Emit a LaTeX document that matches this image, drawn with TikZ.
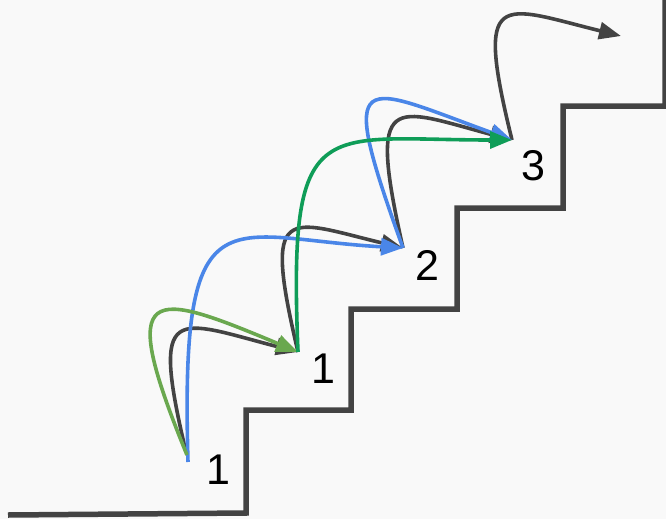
\documentclass[tikz,border=0pt]{standalone}
\usepackage{fontspec}
\setmainfont{Liberation Sans}
\usetikzlibrary{arrows.meta}
\definecolor{stairgray}{HTML}{434343}
\definecolor{hopblue}{HTML}{4A86E8}
\definecolor{hoplight}{HTML}{6AA84F}
\definecolor{hopdark}{HTML}{0F9D58}
\definecolor{paper}{HTML}{F9F9F9}
\tikzset{
  stairline/.style={draw=stairgray, line width=5.5pt, line join=miter},
  hop/.style={line width=3.6pt, -{Triangle[length=22pt,width=17pt]}},
  steplabel/.style={font=\fontsize{43}{43}\selectfont, inner sep=0pt, anchor=base, text=black},
}
\begin{document}
\begin{tikzpicture}[x=1pt, y=-1pt]
  % canvas
  \fill[paper] (0,0) rectangle (666,519);
  \useasboundingbox (0,0) rectangle (666,519);

  % staircase outline
  \draw[stairline] (8,515) -- (246,513) -- (246,410) -- (351,410) -- (351,309)
    -- (457,309) -- (457,208) -- (563,208) -- (563,106) -- (665,106) -- (665,0);

  % landing points of the hops
  \coordinate (s0) at (187,458);
  \coordinate (s1) at (298,352);
  \coordinate (s2) at (403,248);
  \coordinate (s3) at (512,140);
  \coordinate (s4) at (621,36);

  % step counts
  \node[steplabel] (n0) at (218,484) {1};
  \node[steplabel] (n1) at (323,383) {1};
  \node[steplabel] (n2) at (427,280) {2};
  \node[steplabel] (n3) at (533,180) {3};

  % single-step hops
  \draw[hop, stairgray] (186,452) .. controls (150,300) and (175,320) .. (s1);
  \draw[hop, stairgray] (s1) .. controls (262,200) and (287,220) .. (s2);
  \draw[hop, stairgray] (s2) .. controls (367,88) and (392,108) .. (s3);
  \draw[hop, stairgray] (s3) .. controls (474,-14) and (500,6) .. (s4);

  % double-step hops
  \draw[hop, hopblue] (188,462) .. controls (180,185) and (225,238) .. (s2);
  \draw[hop, hopblue] (s2) .. controls (335,60) and (360,85) .. (s3);

  % mixed hops
  \draw[hop, hoplight] (187,455) .. controls (115,280) and (150,290) .. (s1);
  \draw[hop, hopdark] (s1) .. controls (288,110) and (320,140) .. (s3);
\end{tikzpicture}
\end{document}
